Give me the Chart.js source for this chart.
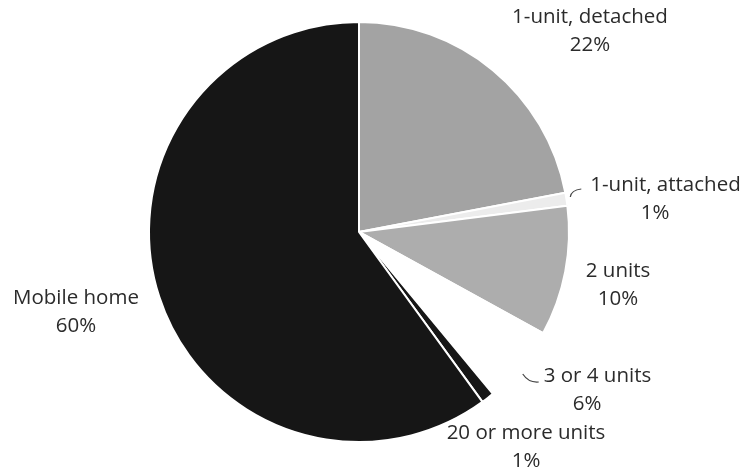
<!DOCTYPE html>
<html lang="en">
<head>
<meta charset="UTF-8">
<title>Housing units by type</title>
<script src="https://cdn.jsdelivr.net/npm/chart.js@4.4.1/dist/chart.umd.min.js"></script>
<style>
    html, body { margin: 0; padding: 0; background: #fff; }
    #wrap { width: 740px; height: 470px; position: relative; }
</style>
</head>
<body>
<div id="wrap"><canvas id="pieChart"></canvas></div>
<script>
// 住宅タイプ別の割合 (%)
const categories = ['1-unit, detached', '1-unit, attached', '2 units', '3 or 4 units', '20 or more units', 'Mobile home'];
const shares = [22, 1, 10, 6, 1, 60];
const sliceColors = ['#a3a3a3', '#ececec', '#adadad', '#ffffff', '#161616', '#161616'];

// ラベル位置 (円の中心からのずれ, px) と引き出し線の向き
const labelPlacement = [
    { dx: 231, dy: -215, hook: null },
    { dx: 296, dy: -47, hook: 'up' },
    { dx: 259, dy: 39, hook: null },
    { dx: 228, dy: 144, hook: 'down' },
    { dx: 167, dy: 201, hook: null },
    { dx: -283, dy: 66, hook: null }
];

// 小さな引き出し線
function drawHook(ctx, x, y, dir) {
    ctx.beginPath();
    if (dir === 'up') {
        ctx.moveTo(x + 1, y + 12);
        ctx.quadraticCurveTo(x + 2, y + 5, x + 12, y + 4);
    } else {
        ctx.moveTo(x, y - 2);
        ctx.quadraticCurveTo(x + 6, y + 7, x + 16, y + 6);
    }
    ctx.stroke();
}

// 各スライスの名前と割合を描く
const sliceLabels = {
    id: 'sliceLabels',
    afterDatasetsDraw(chart) {
        const ctx = chart.ctx;
        const first = chart.getDatasetMeta(0).data[0];
        const cx = first.x;
        const cy = first.y;
        ctx.save();
        ctx.font = '20.5px "Open Sans", sans-serif';
        ctx.fillStyle = '#2b2b2b';
        ctx.strokeStyle = '#444';
        ctx.lineWidth = 1.2;
        ctx.textBaseline = 'middle';
        ctx.textAlign = 'left';
        categories.forEach((name, i) => {
            const p = labelPlacement[i];
            const x = cx + p.dx;
            const y = cy + p.dy;
            [name, shares[i] + '%'].forEach((text, k) => {
                const w = ctx.measureText(text).width;
                const hookW = (k === 0 && p.hook) ? 21 : 0;
                const left = x - (w + hookW) / 2;
                if (hookW) drawHook(ctx, left, y, p.hook);
                ctx.fillText(text, left + hookW, y + k * 28);
            });
        });
        ctx.restore();
    }
};

const ctx = document.getElementById('pieChart').getContext('2d');
new Chart(ctx, {
    type: 'pie',
    data: {
        labels: categories,
        datasets: [{
            data: shares,
            backgroundColor: sliceColors,
            borderColor: '#ffffff',
            borderWidth: 2
        }]
    },
    options: {
        responsive: true,
        maintainAspectRatio: false,
        animation: false,
        layout: {
            padding: { top: 21, bottom: 27, left: 0, right: 22 }
        },
        plugins: {
            legend: { display: false },
            tooltip: { enabled: false }
        }
    },
    plugins: [sliceLabels]
});
</script>
</body>
</html>
